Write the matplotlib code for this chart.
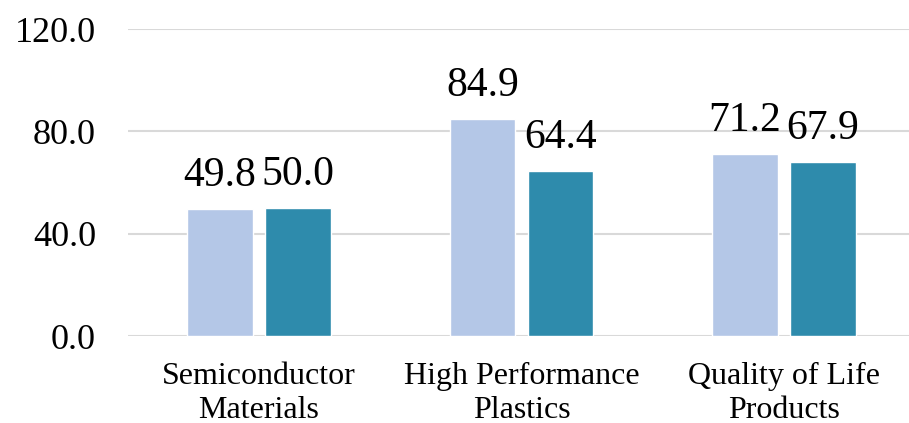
import numpy as np
import matplotlib.pyplot as plt

categories = ["Semiconductor\nMaterials", "High Performance\nPlastics", "Quality of Life\nProducts"]
series_a = [49.8, 84.9, 71.2]
series_b = [50.0, 64.4, 67.9]
y_ticks = [0, 40, 80, 120]

plt.rcParams['font.family'] = ['Liberation Serif', 'DejaVu Serif']

fig = plt.figure(figsize=(9.09, 4.23), dpi=100)
ax = fig.add_axes([128 / 909, 1 - 336 / 423, 781 / 909, 307 / 423])

x = np.arange(len(categories))
width = 0.25
offset = 0.149

bars_a = ax.bar(x - offset, series_a, width, color="#B4C7E7", edgecolor="white", linewidth=1, zorder=2)
bars_b = ax.bar(x + offset, series_b, width, color="#2E8BAC", edgecolor="white", linewidth=1, zorder=2)

ax.bar_label(bars_a, fmt="%.1f", padding=10, fontsize=30)
ax.bar_label(bars_b, fmt="%.1f", padding=10, fontsize=30)

ax.set_xlim(-0.499, 2.476)
ax.set_ylim(0, 120)
ax.set_yticks(y_ticks)
ax.set_yticklabels([f"{v:.1f}" for v in y_ticks], fontsize=26)
ax.set_xticks(x)
ax.set_xticklabels(categories, fontsize=23)
ax.tick_params(length=0)
ax.tick_params(axis="y", pad=23)
ax.tick_params(axis="x", pad=19)

ax.grid(axis="y", color="#D9D9D9", linewidth=1.5, zorder=0)
ax.set_axisbelow(True)
for s in ax.spines.values():
    s.set_visible(False)

fig.savefig("out.png", dpi=100)
